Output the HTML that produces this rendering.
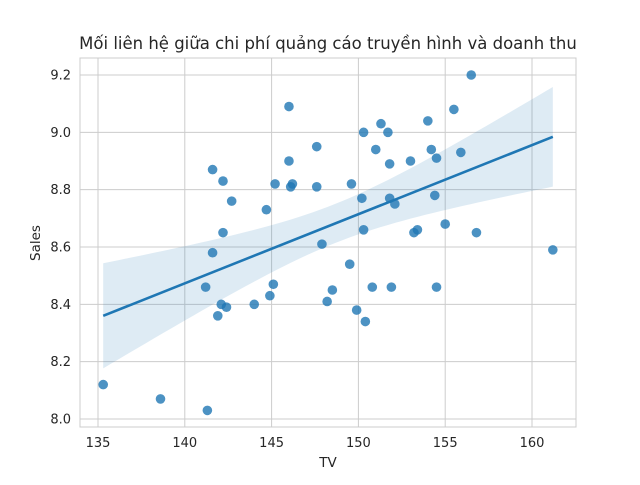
<!DOCTYPE html>
<html><head><meta charset="utf-8"><style>
body{margin:0;background:#fff;}
svg text{font-family:"DejaVu Sans","Liberation Sans",sans-serif;fill:#262626;}
</style></head><body>
<svg id="chart" width="640" height="480">
<rect width="640" height="480" fill="#fff"/>
<g id="grid"></g><g id="band"></g><g id="pts"></g><g id="line"></g><g id="axes"></g>
<text x="328" y="49" text-anchor="middle" font-size="16.5">Mối liên hệ giữa chi phí quảng cáo truyền hình và doanh thu</text>
<text x="328" y="467" text-anchor="middle" font-size="13.5">TV</text>
<text x="40" y="243" text-anchor="middle" font-size="13.5" transform="rotate(-90 40 243)">Sales</text>
</svg>
<script>
const tv=[135.3,138.6,141.3,141.2,141.6,141.6,142.2,142.2,141.9,142.1,142.4,142.7,144.0,144.7,144.9,145.1,145.2,146.0,146.0,146.1,146.2,147.6,147.6,147.9,148.2,148.5,149.5,149.6,149.9,150.2,150.3,150.3,150.4,150.8,151.0,151.3,151.7,151.8,151.8,151.9,152.1,153.0,153.2,153.4,154.0,154.2,154.4,154.5,154.5,155.0,155.5,155.9,156.5,156.8,161.2];
const sales=[8.12,8.07,8.03,8.46,8.87,8.58,8.83,8.65,8.36,8.40,8.39,8.76,8.40,8.73,8.43,8.47,8.82,9.09,8.90,8.81,8.82,8.95,8.81,8.61,8.41,8.45,8.54,8.82,8.38,8.77,9.00,8.66,8.34,8.46,8.94,9.03,9.00,8.89,8.77,8.46,8.75,8.90,8.65,8.66,9.04,8.94,8.78,8.91,8.46,8.68,9.08,8.93,9.20,8.65,8.59];
const xTicks=[135,140,145,150,155,160];
const yTicks=[8.0,8.2,8.4,8.6,8.8,9.0,9.2];
const L=80,R=576,T=58,B=427;
const xs=v=>98+(v-135)*434/25;
const ys=v=>419-(v-8.0)*344/1.2;
const NS="http://www.w3.org/2000/svg";
function mk(tag,attrs,parent){const e=document.createElementNS(NS,tag);for(const k in attrs)e.setAttribute(k,attrs[k]);document.getElementById(parent).appendChild(e);return e;}
const bg=mk('rect',{x:L,y:T,width:R-L,height:B-T,fill:'#fff'},'grid');


xTicks.forEach(t=>{const x=xs(t);
 const g=mk('line',{x1:x,x2:x,y1:T,y2:B,stroke:'#cccccc','stroke-width':1},'grid');
 
 
 const tx=mk('text',{x:x,y:B+20,'text-anchor':'middle','font-size':'13'},'axes');tx.textContent=t;
 
 });
yTicks.forEach(t=>{const y=ys(t);
 const g=mk('line',{x1:L,x2:R,y1:y,y2:y,stroke:'#cccccc','stroke-width':1},'grid');
 
 
 const tx=mk('text',{x:L-9,y:y+4.5,'text-anchor':'end','font-size':'13'},'axes');tx.textContent=t.toFixed(1);
 
 });
const fr=mk('rect',{x:L,y:T,width:R-L,height:B-T,fill:'none',stroke:'#cccccc','stroke-width':1},'axes');


const n=tv.length,mx=tv.reduce((a,b)=>a+b)/n,my=sales.reduce((a,b)=>a+b)/n;
let sxx=0,sxy=0;for(let i=0;i<n;i++){sxx+=(tv[i]-mx)**2;sxy+=(tv[i]-mx)*(sales[i]-my);}
const b1=sxy/sxx,b0=my-b1*mx;let sse=0;for(let i=0;i<n;i++)sse+=(sales[i]-b0-b1*tv[i])**2;
const s=Math.sqrt(sse/(n-2)),tq=2.15;
const x0=Math.min(...tv),x1=Math.max(...tv);
let up=[],lo=[];for(let k=0;k<=60;k++){const x=x0+(x1-x0)*k/60,yh=b0+b1*x,se=s*Math.sqrt(1/n+(x-mx)**2/sxx);up.push(xs(x)+','+ys(yh+tq*se));lo.unshift(xs(x)+','+ys(yh-tq*se));}
const band=mk('polygon',{points:up.concat(lo).join(' '),fill:'#1f77b4','fill-opacity':0.15},'band');


tv.forEach((v,i)=>{const c=mk('circle',{cx:xs(v),cy:ys(sales[i]),r:4.8,fill:'#1f77b4','fill-opacity':0.8},'pts');
 
 });
const ln=mk('line',{x1:xs(x0),y1:ys(b0+b1*x0),x2:xs(x1),y2:ys(b0+b1*x1),stroke:'#1f77b4','stroke-width':2.6},'line');


</script>
</body></html>
